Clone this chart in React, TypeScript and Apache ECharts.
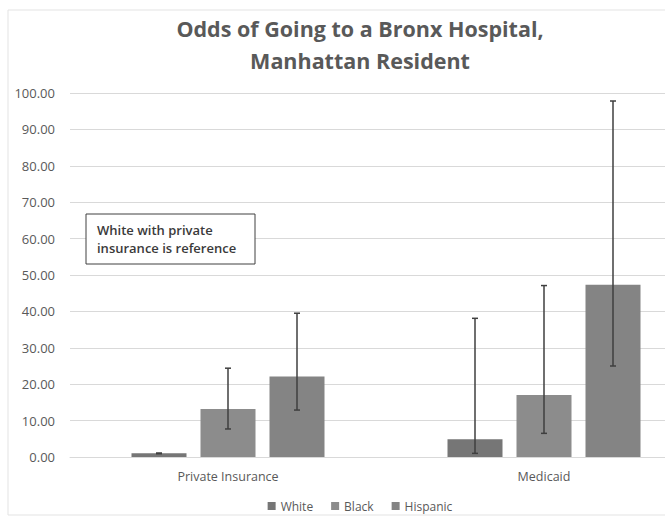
import React, { useEffect, useRef } from "react";
import * as echarts from "echarts";

const categories = ["Private Insurance", "Medicaid"];
const seriesNames = ["White", "Black", "Hispanic"];
const whiteValues = [1.0, 4.9];
const blackValues = [13.2, 17.0];
const hispanicValues = [22.1, 47.3];
const whiteLow = [0.9, 1.0];
const whiteHigh = [1.1, 38.1];
const blackLow = [7.7, 6.5];
const blackHigh = [24.4, 47.1];
const hispanicLow = [12.9, 25.0];
const hispanicHigh = [39.5, 97.8];
const yTicks = { min: 0, max: 100, interval: 10 };
const titleText = "Odds of Going to a Bronx Hospital,\nManhattan Resident";
const noteLines = ["White with private", "insurance is reference"];

const BAR_W = 55;
const BAR_GAP = 14;
const FONT = "'Open Sans', 'Noto Sans', sans-serif";

export default function App() {
  const ref = useRef<HTMLDivElement>(null);
  useEffect(() => {
    if (!ref.current) return;
    const chart = echarts.init(ref.current, null, { renderer: "svg" });
    const values = [whiteValues, blackValues, hispanicValues];
    const lows = [whiteLow, blackLow, hispanicLow];
    const highs = [whiteHigh, blackHigh, hispanicHigh];
    const colors = ["#767676", "#8c8c8c", "#848484"];
    const errData: number[][] = [];
    for (let s = 0; s < 3; s++) {
      for (let c = 0; c < categories.length; c++) {
        errData.push([c, lows[s][c], highs[s][c], s]);
      }
    }
    const barSeries = seriesNames.map((name, i) => ({
      name,
      type: "bar",
      data: values[i],
      barWidth: BAR_W,
      barGap: (BAR_GAP / BAR_W) * 100 + "%",
      itemStyle: { color: colors[i] },
    }));
    chart.setOption({
      animation: false,
      backgroundColor: "#ffffff",
      textStyle: { fontFamily: FONT, color: "#595959" },
      title: {
        text: titleText,
        left: "center",
        top: 7,
        textStyle: {
          fontFamily: FONT,
          fontSize: 21.5,
          fontWeight: "bold",
          color: "#595959",
          lineHeight: 32,
        },
      },
      legend: {
        data: seriesNames,
        bottom: 1,
        left: "center",
        icon: "rect",
        itemWidth: 8,
        itemHeight: 8,
        itemGap: 18,
        textStyle: { fontFamily: FONT, fontSize: 12, color: "#595959" },
      },
      grid: { left: 70, right: 18, top: 93, bottom: 61 },
      xAxis: {
        type: "category",
        data: categories,
        axisLine: { lineStyle: { color: "#d9d9d9" } },
        axisTick: { show: false },
        axisLabel: { color: "#595959", fontSize: 12.5, fontFamily: FONT, margin: 13 },
      },
      yAxis: {
        type: "value",
        min: yTicks.min,
        max: yTicks.max,
        interval: yTicks.interval,
        axisLine: { show: false },
        axisTick: { show: false },
        splitLine: { lineStyle: { color: "#d9d9d9", width: 1 } },
        axisLabel: {
          color: "#595959",
          fontSize: 13,
          fontFamily: FONT,
          margin: 15,
          formatter: (v: number) => v.toFixed(2),
        },
      },
      series: [
        ...barSeries,
        {
          type: "custom",
          name: "error",
          data: errData,
          z: 10,
          renderItem: (params: any, api: any) => {
            const c = api.value(0);
            const s = api.value(3);
            const off = (s - 1) * (BAR_W + BAR_GAP);
            const lo = api.coord([c, api.value(1)]);
            const hi = api.coord([c, api.value(2)]);
            const x = lo[0] + off;
            const cap = 3;
            const st = { stroke: "#3f3f3f", lineWidth: 1.5 };
            return {
              type: "group",
              children: [
                { type: "line", shape: { x1: x, y1: lo[1], x2: x, y2: hi[1] }, style: st },
                { type: "line", shape: { x1: x - cap, y1: hi[1], x2: x + cap, y2: hi[1] }, style: st },
                { type: "line", shape: { x1: x - cap, y1: lo[1], x2: x + cap, y2: lo[1] }, style: st },
              ],
            };
          },
        },
      ],
      graphic: [
        {
          type: "rect",
          shape: { x: 8, y: 10, width: 760, height: 505 },
          style: { fill: "none", stroke: "#e3e3e3", lineWidth: 1 },
          silent: true,
          z: -10,
        },
        {
          type: "rect",
          shape: { x: 86, y: 214, width: 169, height: 50 },
          style: { fill: "#ffffff", stroke: "#404040", lineWidth: 1 },
          z: 20,
        },
        {
          type: "text",
          x: 97,
          y: 221,
          z: 21,
          style: {
            text: noteLines.join("\n"),
            fill: "#3a3a3a",
            fontSize: 13,
            fontFamily: FONT,
            fontWeight: 600,
            lineHeight: 18,
          },
        },
      ],
    });
    return () => chart.dispose();
  }, []);
  return (
    <div style={{ position: "absolute", left: 0, top: 0, width: 665, height: 518, overflow: "hidden", background: "#fff" }}>
      <div ref={ref} style={{ width: 720, height: 518 }} />
    </div>
  );
}
